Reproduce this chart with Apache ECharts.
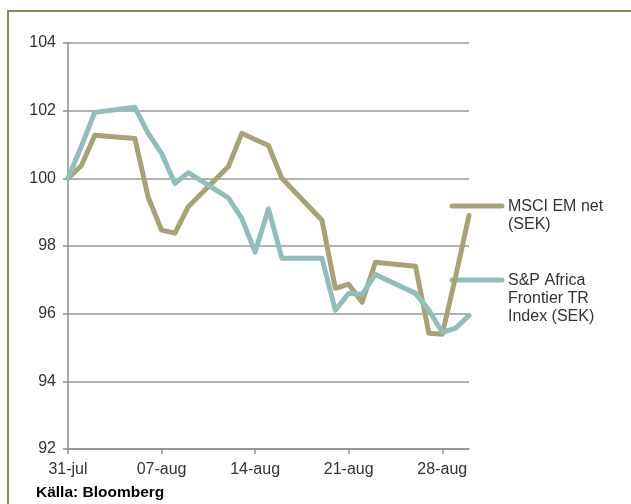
<!DOCTYPE html>
<html>
<head>
<meta charset="utf-8">
<script src="https://cdn.jsdelivr.net/npm/echarts@6/dist/echarts.min.js"></script>
<style>
html,body{margin:0;padding:0;background:#fff;}
#c{width:631px;height:504px;}
</style>
</head>
<body>
<div id="c"></div>
<script>
// Trading dates (2013)
var dates = ['2013-07-31','2013-08-01','2013-08-02','2013-08-05','2013-08-06','2013-08-07','2013-08-08','2013-08-09',
  '2013-08-12','2013-08-13','2013-08-14','2013-08-15','2013-08-16','2013-08-19','2013-08-20','2013-08-21',
  '2013-08-22','2013-08-23','2013-08-26','2013-08-27','2013-08-28','2013-08-29','2013-08-30'];
var msciEM = [100.0,100.38,101.27,101.18,99.44,98.47,98.38,99.16,100.35,101.33,101.15,100.97,100.0,98.76,96.75,96.87,96.34,97.52,97.4,95.42,95.39,97.1,98.9];
var spAfrica = [100.0,100.95,101.95,102.1,101.33,100.74,99.85,100.17,99.42,98.82,97.82,99.1,97.64,97.64,96.1,96.6,96.57,97.16,96.6,96.1,95.45,95.57,95.95];
var xTickLabels = ['31-jul','07-aug','14-aug','21-aug','28-aug'];
var yTicks = [92,94,96,98,100,102,104];
var seriesNames = ['MSCI EM net\n(SEK)','S&P Africa\nFrontier TR\nIndex (SEK)'];
var colors = ['#a7a278','#93bdba'];

var t0 = Date.parse(dates[0]);
function dayOf(d){ return Math.round((Date.parse(d) - t0) / 86400000); }
var tickDays = xTickLabels.map(function(_, i){ return i * 7; });

var chart = echarts.init(document.getElementById('c'));
var axisGrey = '#8e8e8e';
var fontFam = 'Liberation Sans, Arial, sans-serif';
chart.setOption({
  animation: false,
  backgroundColor: '#ffffff',
  textStyle: { fontFamily: fontFam },
  grid: { left: 68, right: 162, top: 43, bottom: 55, containLabel: false },
  xAxis: {
    type: 'value', min: 0, max: dayOf(dates[dates.length - 1]), interval: 7,
    axisLine: { show: true, lineStyle: { color: axisGrey, width: 1.5 } },
    axisTick: { show: true, length: 5, lineStyle: { color: axisGrey, width: 1.5 }, customValues: tickDays },
    axisLabel: { color: '#333', fontSize: 16, margin: 13, customValues: tickDays,
      formatter: function(v){ return xTickLabels[Math.round(v / 7)] || ''; } },
    splitLine: { show: false }
  },
  yAxis: {
    type: 'value', min: yTicks[0], max: yTicks[yTicks.length - 1], interval: 2,
    axisLine: { show: true, lineStyle: { color: axisGrey, width: 1.5 } },
    axisTick: { show: true, length: 5, lineStyle: { color: axisGrey, width: 1.5 } },
    axisLabel: { color: '#333', fontSize: 16, margin: 12 },
    splitLine: { show: true, lineStyle: { color: '#999', width: 1.5 } }
  },
  series: [
    { name: seriesNames[0], type: 'line', showSymbol: false, symbol: 'none',
      lineStyle: { color: colors[0], width: 5, cap: 'round', join: 'round' },
      data: dates.map(function(d, i){ return [dayOf(d), msciEM[i]]; }) },
    { name: seriesNames[1], type: 'line', showSymbol: false, symbol: 'none',
      lineStyle: { color: colors[1], width: 5, cap: 'round', join: 'round' },
      data: dates.map(function(d, i){ return [dayOf(d), spAfrica[i]]; }) }
  ],
  graphic: [
    { type: 'rect', silent: true, shape: { x: 8, y: 11, width: 800, height: 700 },
      style: { fill: null, stroke: '#8c8960', lineWidth: 2 } },
    { type: 'line', silent: true, shape: { x1: 452, y1: 206, x2: 502, y2: 206 },
      style: { stroke: colors[0], lineWidth: 5, lineCap: 'round' } },
    { type: 'text', silent: true, x: 508, y: 198,
      style: { text: seriesNames[0], fill: '#333', font: '16px ' + fontFam, lineHeight: 18 } },
    { type: 'line', silent: true, shape: { x1: 452, y1: 280, x2: 502, y2: 280 },
      style: { stroke: colors[1], lineWidth: 5, lineCap: 'round' } },
    { type: 'text', silent: true, x: 508, y: 272,
      style: { text: seriesNames[1], fill: '#333', font: '16px ' + fontFam, lineHeight: 18 } },
    { type: 'text', silent: true, x: 36, y: 485,
      style: { text: 'Källa: Bloomberg', fill: '#000', font: 'bold 15.5px ' + fontFam } }
  ]
});
</script>
</body>
</html>
